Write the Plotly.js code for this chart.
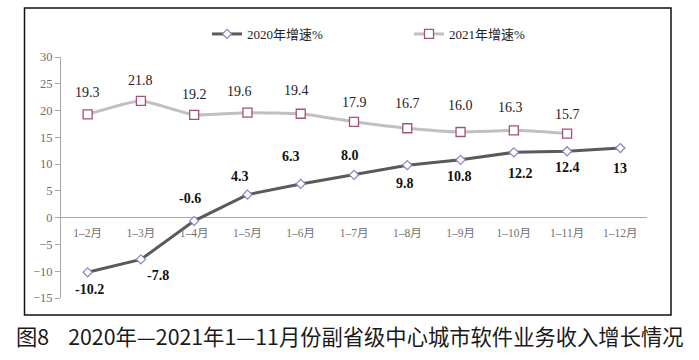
<!DOCTYPE html>
<html>
<head>
<meta charset="utf-8">
<script src="https://cdn.plot.ly/plotly-3.0.1.min.js"></script>
<style>html,body{margin:0;padding:0;background:#fff;}#chart{width:699px;height:360px;}</style>
</head>
<body>
<div id="chart"></div>
<script>
// ---- data ----
const categories = ['1–2月','1–3月','1–4月','1–5月','1–6月','1–7月','1–8月','1–9月','1–10月','1–11月','1–12月'];
const growth2020 = [-10.2, -7.8, -0.6, 4.3, 6.3, 8.0, 9.8, 10.8, 12.2, 12.4, 13];
const growth2021 = [19.3, 21.8, 19.2, 19.6, 19.4, 17.9, 16.7, 16.0, 16.3, 15.7];
const labels2020 = ['-10.2','-7.8','-0.6','4.3','6.3','8.0','9.8','10.8','12.2','12.4','13'];
const labels2021 = ['19.3','21.8','19.2','19.6','19.4','17.9','16.7','16.0','16.3','15.7'];
const seriesNames = ['2020年增速%','2021年增速%'];
const yTicks = [-15,-10,-5,0,5,10,15,20,25,30];
const captionText = '图8\u00a0\u00a0\u00a0\u00a02020年—2021年1—11月份副省级中心城市软件业务收入增长情况';

// ---- label placement (pixel shifts, layout only) ----
const shift2020 = [[2,-17],[17,-16],[-4,22],[-7,18],[-10,27],[-4,19],[-2,-18],[-1,-17],[7,-21],[0,-16],[0,-20]];
const shift2021 = [[0,22],[0,20],[0,20],[-8,21],[-4,23],[0,19],[0,25],[0,26],[-3,23],[0,19]];

// ---- geometry ----
const W = 699, H = 360, L = 61, R = 52, T = 57, B = 62;
const pw = W - L - R, ph = H - T - B;
const px2x = px => (px - L) / pw;
const py2y = py => (H - B - py) / ph;

const serif = 'Liberation Serif, Noto Sans CJK SC, serif';

const traces = [
  {
    type: 'scatter', mode: 'lines+markers', name: seriesNames[0],
    x: categories, y: growth2020,
    line: {color: '#5a5a5a', width: 3},
    marker: {symbol: 'diamond', size: 7, color: '#ffffff', line: {color: '#8585c2', width: 1.2}},
    cliponaxis: false
  },
  {
    type: 'scatter', mode: 'lines+markers', name: seriesNames[1],
    x: categories.slice(0, growth2021.length), y: growth2021,
    line: {color: '#c0c0c0', width: 3, shape: 'spline', smoothing: 0.5},
    marker: {symbol: 'square', size: 9, color: '#ffffff', line: {color: '#a2507c', width: 1.3}},
    cliponaxis: false
  }
];

const annotations = [];
growth2020.forEach((v, i) => {
  annotations.push({
    x: categories[i], y: v, xref: 'x', yref: 'y', text: '<b>' + labels2020[i] + '</b>',
    showarrow: false, xanchor: 'center', yanchor: 'middle',
    xshift: shift2020[i][0], yshift: shift2020[i][1],
    font: {family: serif, size: 14, color: '#111'}
  });
});
growth2021.forEach((v, i) => {
  annotations.push({
    x: categories[i], y: v, xref: 'x', yref: 'y', text: labels2021[i],
    showarrow: false, xanchor: 'center', yanchor: 'middle',
    xshift: shift2021[i][0], yshift: shift2021[i][1],
    font: {family: serif, size: 14, color: '#222'}
  });
});
annotations.push({
  xref: 'paper', yref: 'paper', x: px2x(350), y: py2y(335),
  xanchor: 'center', yanchor: 'middle', showarrow: false,
  text: captionText,
  font: {family: 'Noto Sans CJK SC, sans-serif', size: 21.3, color: '#1a1a1a'}
});

const layout = {
  width: W, height: H,
  margin: {l: L, r: R, t: T, b: B, pad: 0},
  paper_bgcolor: '#ffffff', plot_bgcolor: 'rgba(0,0,0,0)',
  showlegend: true,
  legend: {
    orientation: 'h', x: px2x(207), xanchor: 'left', y: py2y(34), yanchor: 'middle',
    font: {family: serif, size: 13, color: '#222'},
    bgcolor: 'rgba(0,0,0,0)', entrywidth: 157, entrywidthmode: 'pixels',
    itemwidth: 30
  },
  xaxis: {
    type: 'category', range: [-0.5, 10.5], anchor: 'free',
    position: (0 - yTicks[0]) / (yTicks[yTicks.length - 1] - yTicks[0]),
    showline: false, showgrid: false, zeroline: false,
    ticks: 'outside', ticklen: 5, tickcolor: 'rgba(0,0,0,0)',
    tickfont: {family: serif, size: 11.5, color: '#707070'}
  },
  yaxis: {
    range: [yTicks[0], yTicks[yTicks.length - 1]], tickvals: yTicks,
    showline: true, linecolor: '#a8a8a8', linewidth: 1,
    ticks: 'outside', ticklen: 5, tickcolor: '#a8a8a8', tickwidth: 1,
    showgrid: false, zeroline: true, zerolinecolor: '#a8a8a8', zerolinewidth: 1.5,
    tickfont: {family: serif, size: 12.5, color: '#707070'}
  },
  shapes: [{
    type: 'rect', xref: 'paper', yref: 'paper',
    x0: px2x(24.5), x1: px2x(671), y0: py2y(315), y1: py2y(8),
    line: {color: '#111', width: 1.5}, fillcolor: 'rgba(0,0,0,0)', layer: 'below'
  }],
  annotations: annotations
};

Plotly.newPlot('chart', traces, layout, {displayModeBar: false, staticPlot: true});
</script>
</body>
</html>
